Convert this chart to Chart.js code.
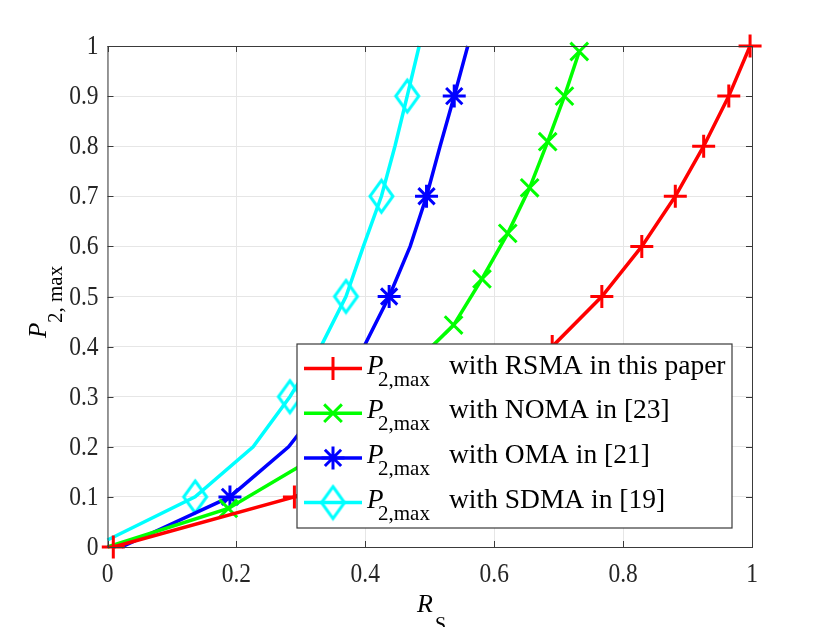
<!DOCTYPE html>
<html>
<head>
<meta charset="utf-8">
<script src="https://cdn.jsdelivr.net/npm/chart.js@4.4.0/dist/chart.umd.min.js"></script>
<style>
html, body { margin: 0; padding: 0; background: #fff; }
#wrap { width: 830px; height: 627px; }
</style>
</head>
<body>
<div id="wrap"><canvas id="chart" width="830" height="627"></canvas></div>
<script>
// axis ticks
const xTickLabels = ['0', '0.2', '0.4', '0.6', '0.8', '1'];
const yTickLabels = ['0', '0.1', '0.2', '0.3', '0.4', '0.5', '0.6', '0.7', '0.8', '0.9', '1'];

// R_S (x) against P_2,max (y)
const rsmaX = [0.009, 0.29, 0.46, 0.59, 0.69, 0.767, 0.829, 0.881, 0.925, 0.964, 0.997];
const rsmaY = [0, 0.1, 0.2, 0.3, 0.4, 0.5, 0.6, 0.7, 0.8, 0.9, 1.0];
const rsmaMarks = [1, 1, 1, 1, 1, 1, 1, 1, 1, 1, 1];

const nomaX = [0, 0.1875, 0.31, 0.39, 0.465, 0.537, 0.581, 0.621, 0.655, 0.683, 0.709, 0.732];
const nomaY = [0, 0.077, 0.17, 0.261, 0.352, 0.443, 0.535, 0.626, 0.717, 0.809, 0.9, 0.989];
const nomaMarks = [0, 1, 1, 1, 1, 1, 1, 1, 1, 1, 1, 1];

const omaX = [0.022, 0.19, 0.281, 0.342, 0.398, 0.437, 0.4696, 0.495, 0.516, 0.538, 0.559];
const omaY = [0, 0.1, 0.2, 0.3, 0.4, 0.5, 0.6, 0.7, 0.8, 0.9, 1.0];
const omaMarks = [0, 1, 0, 1, 0, 1, 0, 1, 0, 1, 0];

const sdmaX = [0, 0.136, 0.226, 0.283, 0.331, 0.37, 0.397, 0.425, 0.446, 0.465, 0.4836];
const sdmaY = [0.014, 0.1, 0.2, 0.3, 0.4, 0.5, 0.6, 0.7, 0.8, 0.9, 1.0];
const sdmaMarks = [0, 1, 0, 1, 0, 1, 0, 1, 0, 1, 0];

const legendTexts = ['with RSMA in this paper', 'with NOMA in [23]', 'with OMA in [21]', 'with SDMA in [19]'];

const serif = "'Liberation Serif', 'Times New Roman', serif";

// MATLAB's diamond is taller than wide, so draw it into a small canvas
function makeDiamond(color, w, h, lw) {
  const c = document.createElement('canvas');
  c.width = Math.ceil(w + lw * 2);
  c.height = Math.ceil(h + lw * 2);
  const g = c.getContext('2d');
  const cx = c.width / 2, cy = c.height / 2;
  g.strokeStyle = color;
  g.lineWidth = lw;
  g.beginPath();
  g.moveTo(cx, cy - h / 2);
  g.lineTo(cx + w / 2, cy);
  g.lineTo(cx, cy + h / 2);
  g.lineTo(cx - w / 2, cy);
  g.closePath();
  g.stroke();
  return c;
}
const diamond = makeDiamond('#00ffff', 23, 32, 3);

function toPoints(xs, ys) {
  return xs.map((x, i) => ({ x: x, y: ys[i] }));
}

function series(label, xs, ys, marks, color, style, radius) {
  return {
    label: label,
    data: toPoints(xs, ys),
    borderColor: color,
    backgroundColor: color,
    borderWidth: 3.5,
    tension: 0,
    clip: false,
    pointStyle: style,
    pointRadius: ctx => marks[ctx.dataIndex] ? radius : 0,
    pointBorderWidth: 3,
    pointBorderColor: color,
    pointBackgroundColor: 'rgba(0,0,0,0)',
    legendRadius: radius
  };
}

function drawMarker(ctx, style, x, y, r) {
  if (style instanceof HTMLCanvasElement) {
    ctx.drawImage(style, x - style.width / 2, y - style.height / 2);
    return;
  }
  const d = r * Math.SQRT1_2;
  ctx.beginPath();
  if (style === 'cross' || style === 'star') {
    ctx.moveTo(x - r, y); ctx.lineTo(x + r, y);
    ctx.moveTo(x, y - r); ctx.lineTo(x, y + r);
  }
  if (style === 'crossRot' || style === 'star') {
    ctx.moveTo(x - d, y - d); ctx.lineTo(x + d, y + d);
    ctx.moveTo(x - d, y + d); ctx.lineTo(x + d, y - d);
  }
  ctx.stroke();
}

// tick labels in the figure are a bit taller than the plain font
function tallText(ctx, text, x, y) {
  ctx.save();
  ctx.translate(x, y);
  ctx.scale(1, 1.15);
  ctx.fillText(text, 0, 0);
  ctx.restore();
}

const decor = {
  id: 'decor',
  afterDatasetsDraw(chart) {
    const { ctx, chartArea: a, scales } = chart;
    const xs = scales.x, ys = scales.y;
    ctx.save();

    // box and inward ticks on all four sides
    ctx.strokeStyle = '#3a3a3a';
    ctx.lineWidth = 1;
    ctx.strokeRect(a.left + 0.5, a.top + 0.5, a.right - a.left, a.bottom - a.top);
    ctx.beginPath();
    xs.ticks.forEach(t => {
      const px = Math.round(xs.getPixelForValue(t.value)) + 0.5;
      ctx.moveTo(px, a.bottom); ctx.lineTo(px, a.bottom - 6);
      ctx.moveTo(px, a.top); ctx.lineTo(px, a.top + 6);
    });
    ys.ticks.forEach(t => {
      const py = Math.round(ys.getPixelForValue(t.value)) + 0.5;
      ctx.moveTo(a.left, py); ctx.lineTo(a.left + 6, py);
      ctx.moveTo(a.right, py); ctx.lineTo(a.right - 6, py);
    });
    ctx.stroke();

    // tick labels
    ctx.fillStyle = '#262626';
    ctx.font = '23.5px ' + serif;
    ctx.textBaseline = 'middle';
    ctx.textAlign = 'center';
    xs.ticks.forEach((t, i) => {
      tallText(ctx, xTickLabels[i], xs.getPixelForValue(t.value), a.bottom + 28);
    });
    ctx.textAlign = 'right';
    ys.ticks.forEach((t, i) => {
      tallText(ctx, yTickLabels[i], a.left - 9, ys.getPixelForValue(t.value) + 1);
    });

    // legend
    const L = { left: a.left + 189.5, top: a.top + 298, w: 435, h: 184 };
    ctx.fillStyle = '#fff';
    ctx.fillRect(L.left, L.top, L.w, L.h);
    ctx.strokeStyle = '#3a3a3a';
    ctx.lineWidth = 1.2;
    ctx.strokeRect(L.left, L.top, L.w, L.h);
    chart.data.datasets.forEach((ds, i) => {
      const ry = L.top + 24.5 + i * 44.7;
      ctx.strokeStyle = ds.borderColor;
      ctx.lineWidth = 3.5;
      ctx.beginPath();
      ctx.moveTo(L.left + 7, ry); ctx.lineTo(L.left + 65, ry);
      ctx.stroke();
      ctx.lineWidth = 3;
      drawMarker(ctx, ds.pointStyle, L.left + 36, ry, ds.legendRadius);

      const base = ry + 5;
      ctx.fillStyle = '#000';
      ctx.textBaseline = 'alphabetic';
      ctx.textAlign = 'left';
      ctx.font = 'italic 27px ' + serif;
      ctx.fillText('P', L.left + 70, base);
      ctx.font = '21px ' + serif;
      ctx.fillText('2,max', L.left + 81, base + 12);
      ctx.font = '27.5px ' + serif;
      ctx.fillText(legendTexts[i], L.left + 152, base);
    });

    // axis titles
    ctx.fillStyle = '#000';
    ctx.textAlign = 'left';
    ctx.textBaseline = 'alphabetic';
    ctx.font = 'italic 26px ' + serif;
    ctx.fillText('R', 417, 612);
    ctx.font = '20px ' + serif;
    ctx.fillText('S', 435, 631);

    ctx.translate(46, 338);
    ctx.rotate(-Math.PI / 2);
    ctx.font = 'italic 25px ' + serif;
    ctx.fillText('P', 0, 0);
    ctx.font = '21px ' + serif;
    ctx.fillText('2, max', 15, 16);

    ctx.restore();
  }
};

const datasets = [
  series('RSMA', rsmaX, rsmaY, rsmaMarks, '#ff0000', 'cross', 11.5),
  series('NOMA', nomaX, nomaY, nomaMarks, '#00ff00', 'crossRot', 12.5),
  series('OMA', omaX, omaY, omaMarks, '#0000ff', 'star', 11.5),
  series('SDMA', sdmaX, sdmaY, sdmaMarks, '#00ffff', diamond, 12)
];

new Chart(document.getElementById('chart'), {
  type: 'line',
  data: { datasets: datasets },
  options: {
    responsive: false,
    animation: false,
    events: [],
    layout: { padding: { left: 0, top: 46, right: 78, bottom: 0 } },
    plugins: { legend: { display: false }, tooltip: { enabled: false } },
    scales: {
      x: {
        type: 'linear',
        min: 0, max: 1,
        afterFit: s => { s.height = 80; },
        grid: { color: '#e6e6e6', lineWidth: 1, drawTicks: false },
        border: { display: false },
        ticks: { stepSize: 0.2, display: false }
      },
      y: {
        type: 'linear',
        min: 0, max: 1,
        afterFit: s => { s.width = 107.5; },
        grid: { color: '#e6e6e6', lineWidth: 1, drawTicks: false },
        border: { display: false },
        ticks: { stepSize: 0.1, display: false }
      }
    }
  },
  plugins: [decor]
});
</script>
</body>
</html>
